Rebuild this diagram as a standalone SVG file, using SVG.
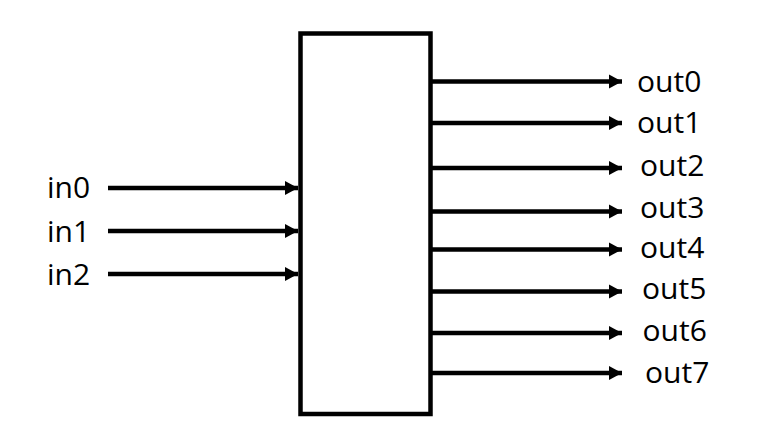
<svg xmlns="http://www.w3.org/2000/svg" width="757" height="447" viewBox="0 0 757 447">
<defs>
<marker id="ah" markerUnits="userSpaceOnUse" markerWidth="14" markerHeight="15" refX="13" refY="7.5" orient="auto">
<path d="M0,0.5 L13,7.5 L0,14.5 Z" fill="#000"/>
</marker>
</defs>
<style>
.t{font-family:"Open Sans","Liberation Sans",sans-serif;font-size:30px;fill:#000}
.c{stroke:#000;stroke-width:4.5;fill:none}
</style>
<rect width="757" height="447" fill="#fff"/>
<g id="box"><rect x="300.5" y="33.5" width="130" height="380.5" fill="#fff" stroke="#000" stroke-width="4.5"/></g>
<g id="connectors">
<line class="c" x1="108" y1="188" x2="298" y2="188" marker-end="url(#ah)"/>
<line class="c" x1="108" y1="231" x2="298" y2="231" marker-end="url(#ah)"/>
<line class="c" x1="108" y1="274" x2="298" y2="274" marker-end="url(#ah)"/>
<line class="c" x1="432" y1="81.5" x2="622" y2="81.5" marker-end="url(#ah)"/>
<line class="c" x1="432" y1="123" x2="622" y2="123" marker-end="url(#ah)"/>
<line class="c" x1="432" y1="168" x2="622" y2="168" marker-end="url(#ah)"/>
<line class="c" x1="432" y1="211.5" x2="622" y2="211.5" marker-end="url(#ah)"/>
<line class="c" x1="432" y1="249.5" x2="622" y2="249.5" marker-end="url(#ah)"/>
<line class="c" x1="432" y1="291.5" x2="622" y2="291.5" marker-end="url(#ah)"/>
<line class="c" x1="432" y1="333" x2="622" y2="333" marker-end="url(#ah)"/>
<line class="c" x1="432" y1="373" x2="622" y2="373" marker-end="url(#ah)"/>
</g>
<g id="in0"><text class="t" x="47" y="198">in0</text></g>
<g id="in1"><text class="t" x="47" y="241.5">in1</text></g>
<g id="in2"><text class="t" x="47" y="284.5">in2</text></g>
<g id="out0"><text class="t" x="637" y="91.5">out0</text></g>
<g id="out1"><text class="t" x="637" y="133">out1</text></g>
<g id="out2"><text class="t" x="640" y="176">out2</text></g>
<g id="out3"><text class="t" x="640" y="217.5">out3</text></g>
<g id="out4"><text class="t" x="640" y="257.5">out4</text></g>
<g id="out5"><text class="t" x="642" y="299">out5</text></g>
<g id="out6"><text class="t" x="642.5" y="341">out6</text></g>
<g id="out7"><text class="t" x="645" y="382.5">out7</text></g>
</svg>
